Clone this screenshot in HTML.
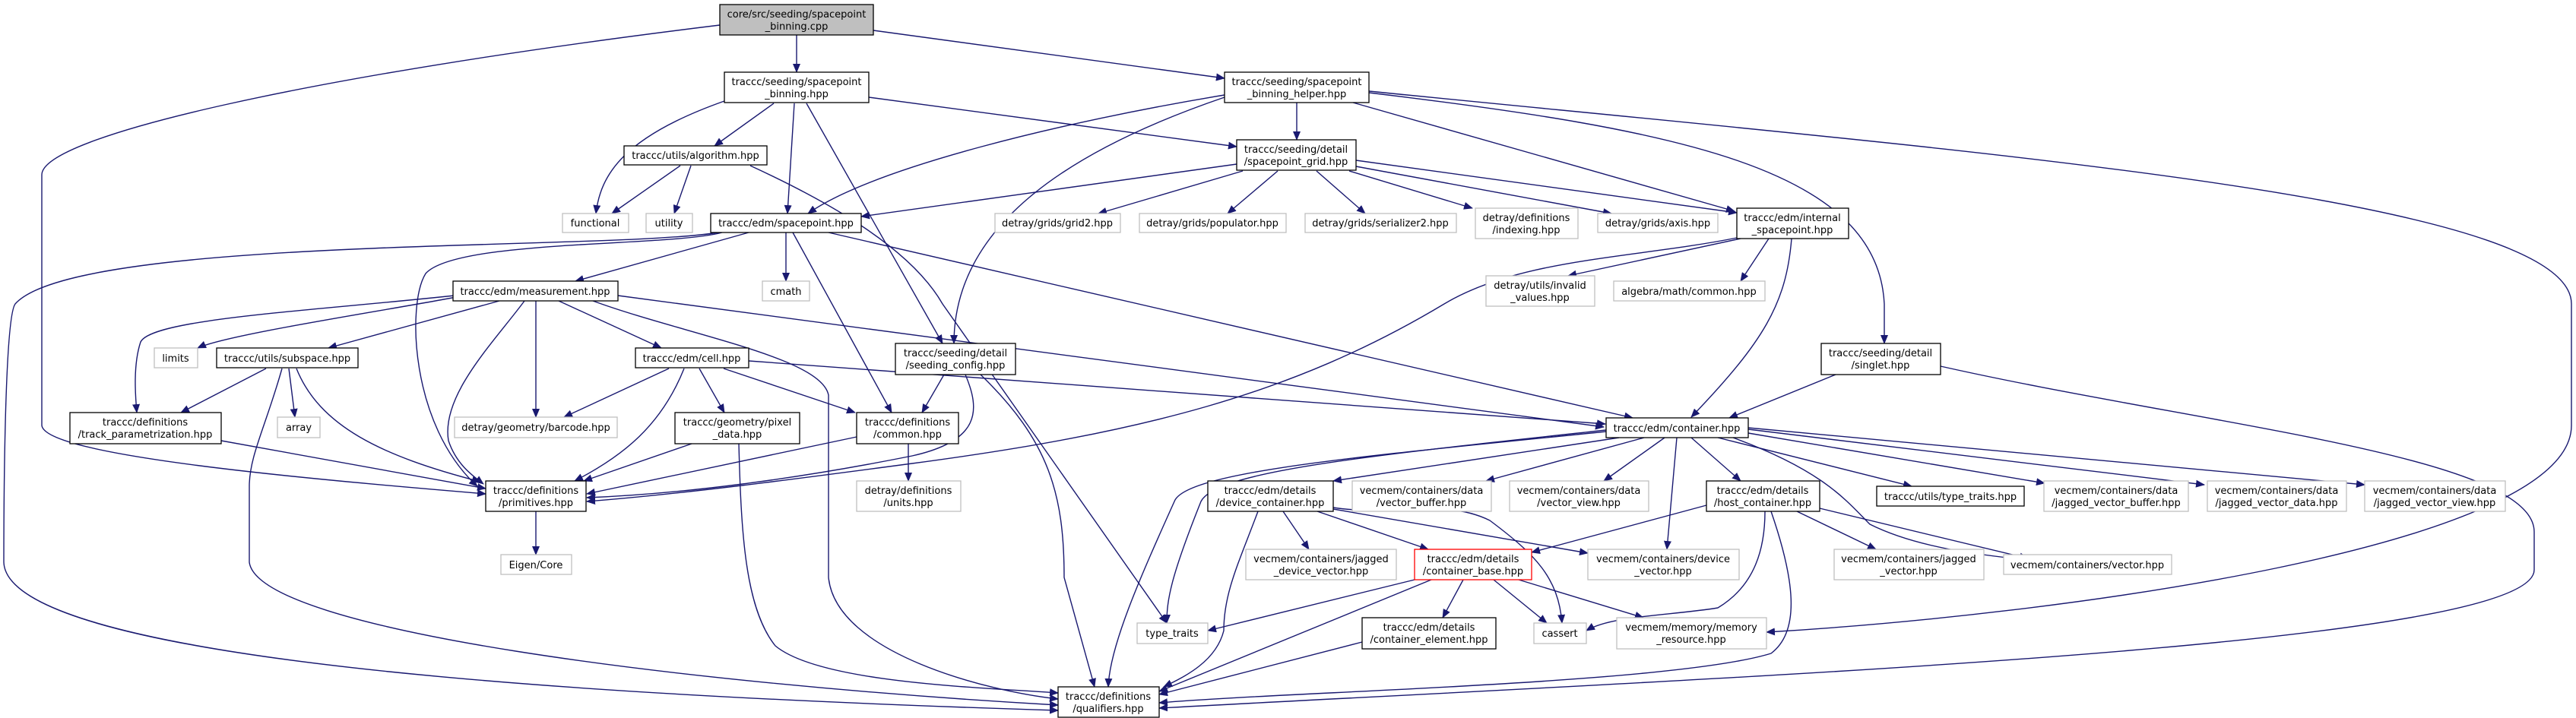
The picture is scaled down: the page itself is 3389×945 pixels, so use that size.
<!DOCTYPE html>
<html><head><meta charset="utf-8"><style>
html,body{margin:0;padding:0;background:#fff}
svg{display:block}
text{font-family:"DejaVu Sans","Liberation Sans",sans-serif;font-size:13px;fill:#000;text-anchor:middle}
.e{fill:none;stroke:#191970;stroke-width:1.4}
.n rect{fill:#fff;stroke:#000;stroke-width:1.3}
.g rect{fill:#fff;stroke:#bfbfbf;stroke-width:1.3}
</style></head><body>
<svg width="3389" height="945" viewBox="0 0 3389 945" xmlns="http://www.w3.org/2000/svg">
<defs><marker id="a" markerWidth="12" markerHeight="10" refX="11" refY="5" orient="auto" markerUnits="userSpaceOnUse"><path d="M0,0 L12,5 L0,10 z" fill="#191970"/></marker></defs>
<g class="e" marker-end="url(#a)">
<path d="M1048,46 L1048,95"/>
<path d="M1149,40 L1611,103"/>
<path d="M947,33 C400,100 55,180 55,230 L55,560 C60,600 400,630 639,650"/>
<path d="M953,133 C820,180 790,230 784,281"/>
<path d="M1018,136 L940,192"/>
<path d="M1045,136 L1036,281"/>
<path d="M1061,136 L1240,452"/>
<path d="M1143,128 L1627,193"/>
<path d="M895,218 L805,281"/>
<path d="M909,218 L887,281"/>
<path d="M987,218 C1100,270 1200,330 1240,400 L1535,820"/>
<path d="M1706,135 L1706,184"/>
<path d="M1611,125 C1400,160 1150,220 1063,281"/>
<path d="M1611,128 C1400,200 1255,300 1255,452"/>
<path d="M1780,135 L2282,278"/>
<path d="M1801,122 C2200,170 2470,220 2479,400 L2479,452"/>
<path d="M1801,120 C2600,200 3383,260 3383,400 L3383,560 C3383,720 2700,810 2324,832"/>
<path d="M1627,216 L1133,285"/>
<path d="M1635,225 L1445,281"/>
<path d="M1681,225 L1615,281"/>
<path d="M1732,225 L1796,281"/>
<path d="M1775,225 L1937,274"/>
<path d="M1784,219 L2120,281"/>
<path d="M1784,211 L2285,280"/>
<path d="M985,306 L757,370"/>
<path d="M1034,306 L1034,370"/>
<path d="M950,306 C880,325 600,315 560,360 C535,400 540,560 628,640"/>
<path d="M945,306 C800,330 100,310 20,400 C5,420 5,700 5,740 C10,880 900,920 1392,935"/>
<path d="M1043,306 L1173,543"/>
<path d="M1090,306 L2148,550"/>
<path d="M600,391 C500,410 300,440 260,458"/>
<path d="M657,396 L432,458"/>
<path d="M735,396 L870,458"/>
<path d="M598,389 C400,410 200,420 185,450 C175,480 178,520 180,543"/>
<path d="M690,396 C650,450 580,520 590,580 C600,610 620,625 636,637"/>
<path d="M705,396 L705,549"/>
<path d="M780,396 C900,440 1080,470 1090,520 L1090,760 C1100,860 1300,910 1392,920"/>
<path d="M813,389 L2110,562"/>
<path d="M350,485 L238,543"/>
<path d="M380,485 L388,549"/>
<path d="M390,485 C420,560 500,600 632,634"/>
<path d="M371,485 C350,560 328,600 328,640 L328,740 C340,830 900,900 1392,928"/>
<path d="M291,580 L639,643"/>
<path d="M880,485 L742,549"/>
<path d="M900,485 C870,560 820,600 756,633"/>
<path d="M920,485 L953,543"/>
<path d="M952,485 L1125,543"/>
<path d="M985,475 L2112,558"/>
<path d="M910,584 L768,633"/>
<path d="M972,584 C975,700 980,800 1020,850 C1080,900 1300,905 1392,912"/>
<path d="M1127,575 L772,650"/>
<path d="M1195,584 L1195,633"/>
<path d="M1242,493 L1213,543"/>
<path d="M1270,493 C1290,540 1290,580 1200,600 C1050,630 900,650 772,655"/>
<path d="M1290,493 C1380,580 1400,650 1400,760 L1440,904"/>
<path d="M2113,568 C1800,600 1560,620 1545,660 C1500,760 1460,850 1458,904"/>
<path d="M2113,566 C1800,600 1600,620 1580,660 C1540,760 1535,790 1535,820"/>
<path d="M2130,576 L1754,633"/>
<path d="M2163,576 L1955,633"/>
<path d="M2190,576 L2110,633"/>
<path d="M2206,576 L2193,723"/>
<path d="M2225,576 L2290,633"/>
<path d="M2260,576 L2515,640"/>
<path d="M2300,570 L2690,636"/>
<path d="M2300,565 L2900,638"/>
<path d="M2300,563 L3111,638"/>
<path d="M2280,576 C2400,620 2430,660 2460,690 C2520,720 2600,730 2668,737"/>
<path d="M1655,673 C1630,740 1610,780 1610,830 C1600,870 1560,890 1531,904"/>
<path d="M1688,673 L1722,723"/>
<path d="M1733,673 L1879,723"/>
<path d="M1754,670 L2089,728"/>
<path d="M1754,668 C1830,680 1900,655 1960,685 C2020,730 2050,760 2055,820"/>
<path d="M2245,665 L2015,727"/>
<path d="M2322,673 C2322,720 2310,770 2260,800 C2200,810 2120,810 2087,830"/>
<path d="M2330,673 C2360,760 2370,830 2330,860 C2200,900 1700,910 1525,925"/>
<path d="M2364,673 L2468,723"/>
<path d="M2394,669 L2668,735"/>
<path d="M1861,763 L1589,830"/>
<path d="M1883,763 L1525,910"/>
<path d="M1925,763 L1898,813"/>
<path d="M1965,763 L2035,820"/>
<path d="M1998,763 L2162,813"/>
<path d="M1792,845 L1525,914"/>
<path d="M2290,314 L2063,363"/>
<path d="M2327,314 L2290,370"/>
<path d="M2357,314 C2350,400 2320,450 2225,549"/>
<path d="M2285,313 C2150,340 2000,340 1900,400 C1700,520 1500,570 1200,610 C1050,630 900,650 772,660"/>
<path d="M2415,493 L2275,550"/>
<path d="M2553,482 C2900,560 3334,600 3334,700 L3334,750 C3334,850 2300,890 1525,932"/>
<path d="M705,673 L705,730"/>
</g>

<g class="n"><rect x="947" y="6" width="202" height="40" style="fill:#bfbfbf"/><text x="1048" y="23">core/src/seeding/spacepoint</text><text x="1048" y="39">_binning.cpp</text></g>
<g class="n"><rect x="953" y="95" width="190" height="40"/><text x="1048" y="112">traccc/seeding/spacepoint</text><text x="1048" y="128">_binning.hpp</text></g>
<g class="n"><rect x="1611" y="95" width="190" height="40"/><text x="1706" y="112">traccc/seeding/spacepoint</text><text x="1706" y="128">_binning_helper.hpp</text></g>
<g class="n"><rect x="821" y="192" width="188" height="25"/><text x="915" y="209">traccc/utils/algorithm.hpp</text></g>
<g class="n"><rect x="1627" y="184" width="157" height="40"/><text x="1705" y="201">traccc/seeding/detail</text><text x="1705" y="217">/spacepoint_grid.hpp</text></g>
<g class="g"><rect x="740" y="281" width="87" height="25"/><text x="783" y="298">functional</text></g>
<g class="g"><rect x="850" y="281" width="61" height="25"/><text x="880" y="298">utility</text></g>
<g class="n"><rect x="935" y="281" width="198" height="25"/><text x="1034" y="298">traccc/edm/spacepoint.hpp</text></g>
<g class="g"><rect x="1309" y="281" width="165" height="25"/><text x="1391" y="298">detray/grids/grid2.hpp</text></g>
<g class="g"><rect x="1499" y="281" width="193" height="25"/><text x="1595" y="298">detray/grids/populator.hpp</text></g>
<g class="g"><rect x="1717" y="281" width="199" height="25"/><text x="1816" y="298">detray/grids/serializer2.hpp</text></g>
<g class="g"><rect x="1941" y="274" width="135" height="40"/><text x="2008" y="291">detray/definitions</text><text x="2008" y="307">/indexing.hpp</text></g>
<g class="g"><rect x="2102" y="281" width="158" height="25"/><text x="2181" y="298">detray/grids/axis.hpp</text></g>
<g class="n"><rect x="2285" y="274" width="147" height="40"/><text x="2358" y="291">traccc/edm/internal</text><text x="2358" y="307">_spacepoint.hpp</text></g>
<g class="g"><rect x="1955" y="363" width="143" height="40"/><text x="2026" y="380">detray/utils/invalid</text><text x="2026" y="396">_values.hpp</text></g>
<g class="g"><rect x="2123" y="370" width="199" height="26"/><text x="2222" y="388">algebra/math/common.hpp</text></g>
<g class="n"><rect x="596" y="370" width="217" height="26"/><text x="704" y="388">traccc/edm/measurement.hpp</text></g>
<g class="g"><rect x="1003" y="370" width="62" height="26"/><text x="1034" y="388">cmath</text></g>
<g class="g"><rect x="203" y="458" width="57" height="26"/><text x="231" y="476">limits</text></g>
<g class="n"><rect x="285" y="458" width="186" height="26"/><text x="378" y="476">traccc/utils/subspace.hpp</text></g>
<g class="n"><rect x="836" y="458" width="149" height="26"/><text x="910" y="476">traccc/edm/cell.hpp</text></g>
<g class="n"><rect x="1178" y="452" width="158" height="41"/><text x="1257" y="469">traccc/seeding/detail</text><text x="1257" y="485">/seeding_config.hpp</text></g>
<g class="n"><rect x="2396" y="452" width="157" height="41"/><text x="2474" y="469">traccc/seeding/detail</text><text x="2474" y="485">/singlet.hpp</text></g>
<g class="n"><rect x="92" y="543" width="199" height="41"/><text x="191" y="560">traccc/definitions</text><text x="191" y="576">/track_parametrization.hpp</text></g>
<g class="g"><rect x="365" y="549" width="56" height="27"/><text x="393" y="567">array</text></g>
<g class="g"><rect x="598" y="549" width="214" height="27"/><text x="705" y="567">detray/geometry/barcode.hpp</text></g>
<g class="n"><rect x="888" y="543" width="164" height="41"/><text x="970" y="560">traccc/geometry/pixel</text><text x="970" y="576">_data.hpp</text></g>
<g class="n"><rect x="1127" y="543" width="134" height="41"/><text x="1194" y="560">traccc/definitions</text><text x="1194" y="576">/common.hpp</text></g>
<g class="n"><rect x="2113" y="550" width="187" height="26"/><text x="2206" y="568">traccc/edm/container.hpp</text></g>
<g class="n"><rect x="639" y="633" width="132" height="40"/><text x="705" y="650">traccc/definitions</text><text x="705" y="666">/primitives.hpp</text></g>
<g class="g"><rect x="1127" y="633" width="137" height="40"/><text x="1195" y="650">detray/definitions</text><text x="1195" y="666">/units.hpp</text></g>
<g class="n"><rect x="1589" y="633" width="165" height="40"/><text x="1671" y="650">traccc/edm/details</text><text x="1671" y="666">/device_container.hpp</text></g>
<g class="g"><rect x="1779" y="633" width="183" height="40"/><text x="1870" y="650">vecmem/containers/data</text><text x="1870" y="666">/vector_buffer.hpp</text></g>
<g class="g"><rect x="1986" y="633" width="183" height="40"/><text x="2077" y="650">vecmem/containers/data</text><text x="2077" y="666">/vector_view.hpp</text></g>
<g class="n"><rect x="2245" y="633" width="149" height="40"/><text x="2319" y="650">traccc/edm/details</text><text x="2319" y="666">/host_container.hpp</text></g>
<g class="n"><rect x="2469" y="640" width="194" height="26"/><text x="2566" y="658">traccc/utils/type_traits.hpp</text></g>
<g class="g"><rect x="2689" y="633" width="190" height="40"/><text x="2784" y="650">vecmem/containers/data</text><text x="2784" y="666">/jagged_vector_buffer.hpp</text></g>
<g class="g"><rect x="2904" y="633" width="183" height="40"/><text x="2995" y="650">vecmem/containers/data</text><text x="2995" y="666">/jagged_vector_data.hpp</text></g>
<g class="g"><rect x="3111" y="633" width="185" height="40"/><text x="3203" y="650">vecmem/containers/data</text><text x="3203" y="666">/jagged_vector_view.hpp</text></g>
<g class="g"><rect x="659" y="730" width="93" height="26"/><text x="705" y="748">Eigen/Core</text></g>
<g class="g"><rect x="1639" y="723" width="198" height="40"/><text x="1738" y="740">vecmem/containers/jagged</text><text x="1738" y="756">_device_vector.hpp</text></g>
<g class="n"><rect x="1861" y="723" width="154" height="40" style="stroke:#ff0000"/><text x="1938" y="740">traccc/edm/details</text><text x="1938" y="756">/container_base.hpp</text></g>
<g class="g"><rect x="2089" y="723" width="199" height="40"/><text x="2188" y="740">vecmem/containers/device</text><text x="2188" y="756">_vector.hpp</text></g>
<g class="g"><rect x="2413" y="723" width="197" height="40"/><text x="2511" y="740">vecmem/containers/jagged</text><text x="2511" y="756">_vector.hpp</text></g>
<g class="g"><rect x="2636" y="730" width="221" height="26"/><text x="2746" y="748">vecmem/containers/vector.hpp</text></g>
<g class="g"><rect x="1496" y="820" width="93" height="27"/><text x="1542" y="838">type_traits</text></g>
<g class="n"><rect x="1792" y="813" width="176" height="41"/><text x="1880" y="830">traccc/edm/details</text><text x="1880" y="846">/container_element.hpp</text></g>
<g class="g"><rect x="2018" y="820" width="69" height="27"/><text x="2052" y="838">cassert</text></g>
<g class="g"><rect x="2127" y="813" width="197" height="41"/><text x="2225" y="830">vecmem/memory/memory</text><text x="2225" y="846">_resource.hpp</text></g>
<g class="n"><rect x="1392" y="904" width="133" height="40"/><text x="1458" y="921">traccc/definitions</text><text x="1458" y="937">/qualifiers.hpp</text></g>
</svg>
</body></html>
